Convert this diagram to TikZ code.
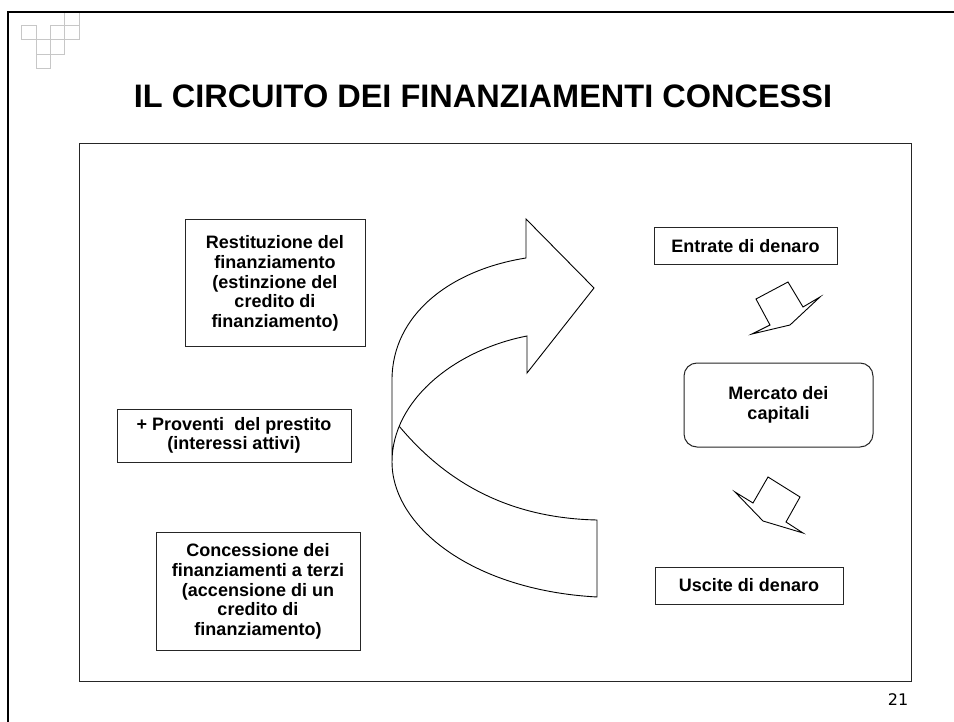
\documentclass[tikz,border=0pt]{standalone}
\usepackage{fontspec}
\setmainfont{Liberation Sans}
\newfontfamily\numfont{DejaVu Sans}
\begin{document}
\begin{tikzpicture}[x=1pt,y=-1pt,
  box/.style={draw=black!85,line width=1pt,fill=white,align=center,inner sep=0pt,
              font=\fontsize{18}{19.6}\selectfont\bfseries},
  shapeline/.style={draw=black,line width=0.9pt,line join=miter},
  gridsq/.style={draw=black!22,line width=0.8pt}]
\useasboundingbox (0,0) rectangle (954,722);
\fill[white] (0,0) rectangle (954,722);
% decorative squares
\foreach \c/\r in {0/1,1/2,1/3,2/1,2/2,3/0,3/1}
  \draw[gridsq] ({21.5+14.4*\c},{11+14.4*\r}) rectangle ++(14.4,14.4);
% outer frame
\draw[line width=2.5pt] (8,722) -- (8,12) -- (954,12);
% inner frame
\draw[line width=1pt,black!85] (79,144) rectangle (911,681);
% title
\node[font=\fontsize{32.5}{36}\selectfont\bfseries,inner sep=0pt] (title) at (483,96)
  {IL CIRCUITO DEI FINANZIAMENTI CONCESSI};
% left boxes
\node[box,minimum width=180pt,minimum height=127pt] (rest) at (275,283.5)
  {Restituzione del\\finanziamento\\(estinzione del\\credito di\\finanziamento)};
\node[box,minimum width=234pt,minimum height=53pt] (prov) at (234,435.5)
  {+ Proventi \ del prestito\\(interessi attivi)};
\node[box,minimum width=204pt,minimum height=118pt] (conc) at (258,591.5)
  {Concessione dei\\finanziamenti a terzi\\(accensione di un\\credito di\\finanziamento)};
% right boxes
\node[box,minimum width=183pt,minimum height=37pt] (entr) at (745.5,246.5) {Entrate di denaro};
\node[box,rounded corners=13pt,minimum width=189pt,minimum height=84pt] (merc) at (778.5,405)
  {Mercato dei\\capitali};
\node[box,minimum width=188pt,minimum height=37pt] (usc) at (749,585.5) {Uscite di denaro};
% big curved arrow: back band
\draw[shapeline,fill=white] (392,462) .. controls (392,525) and (470,590) .. (597,597)
  -- (597,520) .. controls (500,518) and (440,475) .. (399,426);
% front band with head
\draw[shapeline,fill=white] (392,462) -- (392,380) .. controls (392,315) and (450,270) .. (526,258)
  -- (526,219) -- (594,288) -- (527,373) -- (527,336)
  .. controls (455,350) and (392,400) .. (392,462) -- cycle;
% small arrows
\draw[shapeline,fill=white] (756,299) -- (788,282) -- (803,307) -- (820,297) -- (790,325)
  -- (752,334) -- (770,325) -- cycle;
\draw[shapeline,fill=white] (768,477) -- (800,497) -- (786,522) -- (803,533) -- (763,521)
  -- (735,492) -- (753,503) -- cycle;
% page number
\node[font=\numfont\fontsize{16}{18}\selectfont,inner sep=0pt] (pg) at (898,700) {21};
\end{tikzpicture}
\end{document}
